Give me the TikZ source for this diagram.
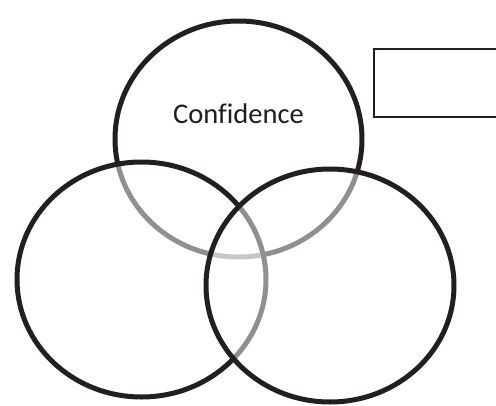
\documentclass[tikz,border=0pt]{standalone}
\usepackage{fontspec}
\setmainfont[Ligatures=NoCommon]{Carlito}
\definecolor{ringblack}{RGB}{35,31,32}
\definecolor{textgray}{RGB}{30,30,30}
\begin{document}
\begin{tikzpicture}[x=1pt,y=-1pt,
  ring/.style={draw=ringblack, line width=5pt, fill=white},
  overring/.style={ring, fill opacity=0.5},
  labelbox/.style={draw=ringblack, line width=2pt, minimum width=140pt, minimum height=68pt, inner sep=0pt}]
\useasboundingbox (0,0) rectangle (496,405);
\clip (0,0) rectangle (496,405);
\draw[ring] (238.5,139) ellipse [x radius=123.5, y radius=118];
\draw[overring] (141.5,279.5) ellipse [x radius=124.5, y radius=117.5];
\draw[overring] (330,285.5) ellipse [x radius=124, y radius=116.5];
\node[text=textgray, font=\fontsize{28.5}{31}\selectfont] (conf) at (238.5,114) {Confidence};
\node[labelbox, anchor=north west] (box) at (373,48) {};
\end{tikzpicture}
\end{document}
